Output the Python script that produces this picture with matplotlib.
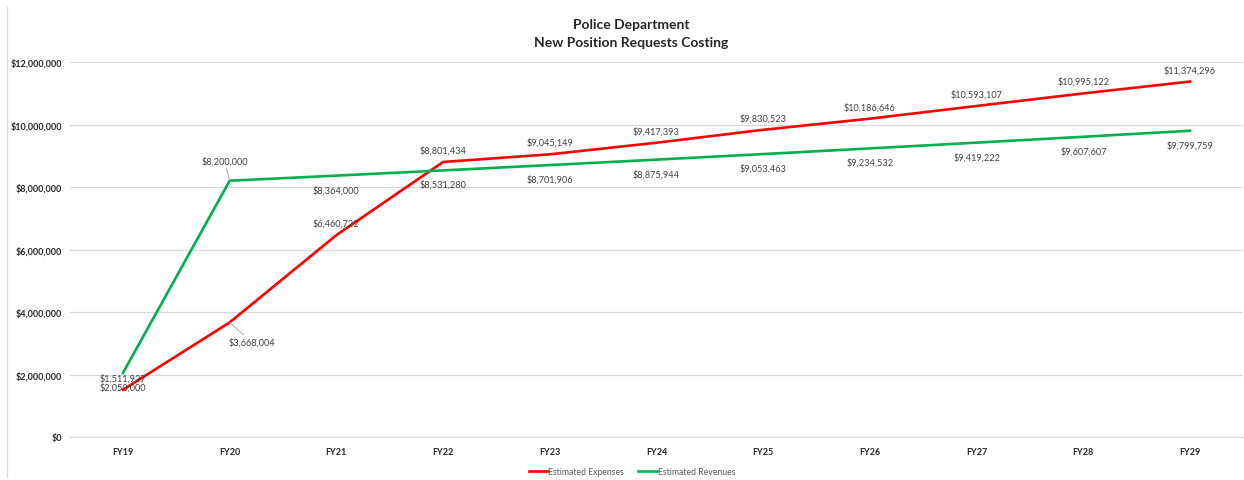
import matplotlib
matplotlib.use("Agg")
import matplotlib.pyplot as plt
from matplotlib.lines import Line2D
from matplotlib.ticker import FuncFormatter

plt.rcParams['font.family'] = ['Lato', 'DejaVu Sans']

years = ["FY19", "FY20", "FY21", "FY22", "FY23", "FY24",
         "FY25", "FY26", "FY27", "FY28", "FY29"]
expenses = [1511927, 3668004, 6460722, 8801434, 9045149, 9417393,
            9830523, 10186646, 10593107, 10995122, 11374296]
revenues = [2050000, 8200000, 8364000, 8531280, 8701906, 8875944,
            9053463, 9234532, 9419222, 9607607, 9799759]

RED = "#FF0000"
GREEN = "#00B050"
GRID = "#D9D9D9"
LABEL = "#404040"

W, H = 1244, 481
fig = plt.figure(figsize=(W / 100, H / 100), dpi=100)
ax_left, ax_right = 69.6, 1243.4
ax_top, ax_bottom = 63, 438
ax = fig.add_axes([ax_left / W, (H - ax_bottom) / H,
                   (ax_right - ax_left) / W, (ax_bottom - ax_top) / H])

x = list(range(len(years)))
ax.plot(x, expenses, color=RED, lw=1.9, solid_joinstyle='miter', zorder=3)
ax.plot(x, revenues, color=GREEN, lw=1.9, solid_joinstyle='miter', zorder=3)

ax.set_xlim(-0.5, len(years) - 0.5)
ax.set_ylim(0, 12_000_000)
ax.set_yticks(range(0, 12_000_001, 2_000_000))
ax.yaxis.set_major_formatter(FuncFormatter(lambda v, p: f"${v:,.0f}"))
ax.set_xticks(x)
ax.set_xticklabels(years)
ax.tick_params(axis='both', length=0, labelsize=6.5, labelcolor="#262626")
ax.tick_params(axis='y', pad=5.5)
ax.tick_params(axis='x', pad=7)
for lab in ax.get_xticklabels() + ax.get_yticklabels():
    lab.set_fontweight('bold')
ax.grid(axis='y', color=GRID, lw=0.9)
ax.set_axisbelow(True)
for s in ['top', 'right', 'left']:
    ax.spines[s].set_visible(False)
ax.spines['bottom'].set_color(GRID)
ax.spines['bottom'].set_linewidth(0.9)


def px(dx, dy):
    # pixel offsets (screen: +dy is downward) converted to points
    return (dx * 0.72, -dy * 0.72)


label_kw = dict(textcoords='offset points', ha='center', va='center',
                fontsize=6.6, color=LABEL, zorder=4)
leader = dict(arrowstyle='-', color='#A6A6A6', lw=0.7, shrinkA=0, shrinkB=0)

# value labels for expenses (above the line)
for i, v in enumerate(expenses):
    off = px(0, -12)
    kw = {}
    if i == 1:
        off = px(22, 20)
        kw = dict(arrowprops=leader)
    ax.annotate(f"${v:,.0f}", (i, v), xytext=off, **label_kw, **kw)

# value labels for revenues (below the line)
for i, v in enumerate(revenues):
    off = px(0, 14)
    kw = {}
    if i == 1:
        off = px(-5, -20)
        kw = dict(arrowprops=leader)
    ax.annotate(f"${v:,.0f}", (i, v), xytext=off, **label_kw, **kw)

# title
fig.text(631 / W, 1 - 25 / H, "Police Department", ha='center', va='center',
         fontsize=10, fontweight='bold', color="#262626")
fig.text(631 / W, 1 - 43 / H, "New Position Requests Costing", ha='center',
         va='center', fontsize=10, fontweight='bold', color="#262626")

# thin border on the left edge of the chart area
fig.add_artist(Line2D([7 / W, 7 / W], [1 - 8 / H, 1 - 478 / H],
                      color=GRID, lw=0.9, transform=fig.transFigure))

handles = [Line2D([], [], color=RED, lw=1.9),
           Line2D([], [], color=GREEN, lw=1.9)]
leg = fig.legend(handles, ["Estimated Expenses", "Estimated Revenues"],
                 loc='center', bbox_to_anchor=(632 / W, 1 - 473 / H),
                 ncol=2, frameon=False, fontsize=6.2, handlelength=2.2,
                 handletextpad=0.1, columnspacing=1.6, labelcolor="#595959")

fig.savefig("out.png", dpi=100)
